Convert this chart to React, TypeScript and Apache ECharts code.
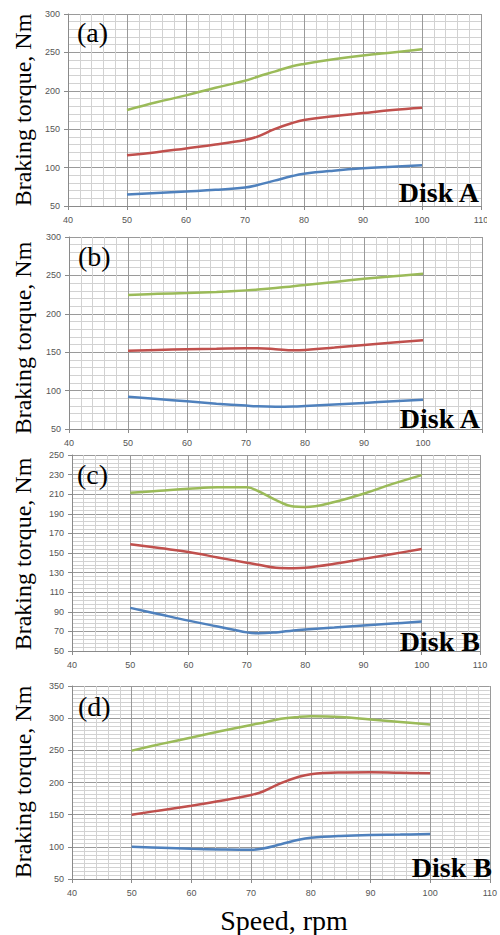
import React, { useEffect, useRef } from "react";
import * as echarts from "echarts";

// Speeds (rpm) sampled along each curve
const speeds = [50, 55, 60, 65, 70, 72, 75, 78, 80, 85, 90, 95, 100];

// Panel (a) – Disk A
const aGreen = [175, 185, 194, 204, 213, 218, 225, 232, 235, 241, 246, 250, 254];
const aRed = [116, 120, 125, 130, 136, 140, 150, 158, 162, 167, 171, 175, 178];
const aBlue = [65, 67, 69, 71, 74, 77, 83, 89, 92, 96, 99, 101, 103];

// Panel (b) – Disk A
const bGreen = [224.5, 226, 227, 228.5, 230.5, 231.5, 233.5, 236, 237.5, 241.5, 245.5, 249, 252];
const bRed = [152, 153, 154, 154.5, 155, 155, 154, 152.5, 153, 156, 159.5, 162.5, 165.5];
const bBlue = [92, 89, 86, 83, 80.5, 79.5, 79, 79.3, 80, 82, 84, 86, 88];

// Panel (c) – Disk B
const cGreen = [211.5, 213.5, 215.5, 217, 217, 213, 204, 197.5, 197, 202, 210.5, 220.5, 229.5];
const cRed = [159, 155, 151, 145.5, 140, 138, 135, 134.5, 135, 139, 144, 149, 154];
const cBlue = [94, 87.5, 81, 75, 69, 68, 69, 71, 72, 74, 76, 78, 80];

// Panel (d) – Disk B
const dGreen = [249.5, 260, 270, 280, 289.5, 293, 299, 302, 303, 302, 298, 294, 290];
const dRed = [150, 157, 164, 171.5, 180.5, 186, 199, 209, 213, 215.5, 216, 215, 214.5];
const dBlue = [100, 98.5, 97, 96, 95.5, 97.5, 104, 111, 114, 117, 118.5, 119, 119.8];

// Axes
const xMin = 40;
const xMax = 110;
const xStep = 10;
const yRanges = [
  { min: 50, max: 300, interval: 50, minor: 5 },
  { min: 50, max: 300, interval: 50, minor: 5 },
  { min: 50, max: 250, interval: 20, minor: 5 },
  { min: 50, max: 350, interval: 50, minor: 8 },
];

const panelLetters = ["(a)", "(b)", "(c)", "(d)"];
const diskLabels = ["Disk A", "Disk A", "Disk B", "Disk B"];
const yTitle = "Braking torque, Nm";
const xTitle = "Speed, rpm";

const panelData = [
  [aGreen, aRed, aBlue],
  [bGreen, bRed, bBlue],
  [cGreen, cRed, cBlue],
  [dGreen, dRed, dBlue],
];

const colors = ["#9bbb59", "#c0504d", "#4f81bd"];

// layout (pixels)
const grids = [
  { left: 68, top: 14, width: 413, height: 192 },
  { left: 69, top: 237, width: 413, height: 192 },
  { left: 72, top: 455, width: 408, height: 196 },
  { left: 72, top: 686, width: 420, height: 193 },
];
const letterPos = [
  { x: 77, y: 32 },
  { x: 78, y: 256 },
  { x: 77, y: 474 },
  { x: 78, y: 706 },
];
const diskPos = [
  { x: 479, y: 192 },
  { x: 480, y: 418 },
  { x: 480, y: 641 },
  { x: 492, y: 867 },
];
const yTitlePos = [
  { x: 23, y: 110 },
  { x: 23, y: 338 },
  { x: 23, y: 554 },
  { x: 23, y: 782 },
];

const SERIF = "Liberation Serif";

export default function App() {
  const ref = useRef<HTMLDivElement>(null);
  useEffect(() => {
    if (!ref.current) return;
    const chart = echarts.init(ref.current, undefined, { renderer: "svg" });

    const xAxis = grids.map((_, i) => ({
      type: "value",
      gridIndex: i,
      min: xMin,
      max: xMax,
      interval: xStep,
      axisLine: { show: true, onZero: false, lineStyle: { color: "#8a8a8a", width: 1 } },
      axisTick: { show: true, length: 4, lineStyle: { color: "#8a8a8a" } },
      axisLabel: {
        fontSize: 9,
        color: "#555",
        margin: 9,
        fontFamily: "Liberation Sans",
        formatter: (v: number) => (i === 1 && v === 110 ? "" : String(v)),
      },
      splitLine: { show: true, lineStyle: { color: "#9a9a9a", width: 1 } },
      minorTick: { show: false, splitNumber: 5 },
      minorSplitLine: { show: true, lineStyle: { color: "#d2d2d2", width: 1 } },
    }));

    const yAxis = grids.map((_, i) => ({
      type: "value",
      gridIndex: i,
      min: yRanges[i].min,
      max: yRanges[i].max,
      interval: yRanges[i].interval,
      axisLine: { show: true, lineStyle: { color: "#8a8a8a", width: 1 } },
      axisTick: { show: true, length: 4, lineStyle: { color: "#8a8a8a" } },
      axisLabel: {
        fontSize: 9,
        color: "#555",
        margin: 8,
        fontFamily: "Liberation Sans",
      },
      splitLine: { show: true, lineStyle: { color: "#9a9a9a", width: 1 } },
      minorTick: { show: false, splitNumber: yRanges[i].minor },
      minorSplitLine: { show: true, lineStyle: { color: "#d2d2d2", width: 1 } },
    }));

    const series: any[] = [];
    panelData.forEach((lines, i) => {
      lines.forEach((vals, j) => {
        series.push({
          type: "line",
          xAxisIndex: i,
          yAxisIndex: i,
          data: speeds.map((s, k) => [s, vals[k]]),
          smooth: 0.4,
          showSymbol: false,
          symbol: "none",
          lineStyle: { color: colors[j], width: 2.5 },
          z: 3,
        });
      });
    });

    const graphic: any[] = [];
    grids.forEach((_, i) => {
      graphic.push({
        type: "text",
        x: letterPos[i].x,
        y: letterPos[i].y,
        z: 10,
        style: {
          text: panelLetters[i],
          fontSize: 28,
          fontFamily: SERIF,
          fill: "#000",
          align: "left",
          verticalAlign: "middle",
        },
      });
      graphic.push({
        type: "text",
        x: diskPos[i].x,
        y: diskPos[i].y,
        z: 10,
        style: {
          text: diskLabels[i],
          fontSize: 28,
          fontWeight: "bold",
          fontFamily: SERIF,
          fill: "#000",
          align: "right",
          verticalAlign: "middle",
        },
      });
      graphic.push({
        type: "text",
        x: yTitlePos[i].x,
        y: yTitlePos[i].y,
        rotation: Math.PI / 2,
        z: 10,
        style: {
          text: yTitle,
          fontSize: 24,
          fontFamily: SERIF,
          fill: "#000",
          align: "center",
          verticalAlign: "middle",
        },
      });
    });
    // panel (a) x-labels are partly covered by the panel below in the source
    graphic.push({
      type: "rect",
      shape: { x: 35, y: 223, width: 465, height: 8 },
      style: { fill: "#fff" },
      z: 20,
    });
    graphic.push({
      type: "rect",
      shape: { x: 487, y: 210, width: 13, height: 20 },
      style: { fill: "#fff" },
      z: 20,
    });
    graphic.push({
      type: "text",
      x: 284,
      y: 920,
      z: 10,
      style: {
        text: xTitle,
        fontSize: 28,
        fontFamily: SERIF,
        fill: "#000",
        align: "center",
        verticalAlign: "middle",
      },
    });

    chart.setOption({
      animation: false,
      backgroundColor: "#fff",
      grid: grids.map((g) => ({ ...g, containLabel: false })),
      xAxis,
      yAxis,
      series,
      graphic,
    });
    return () => chart.dispose();
  }, []);

  return (
    <div
      ref={ref}
      style={{ position: "fixed", left: 0, top: 0, width: 500, height: 935, background: "#fff" }}
    />
  );
}
